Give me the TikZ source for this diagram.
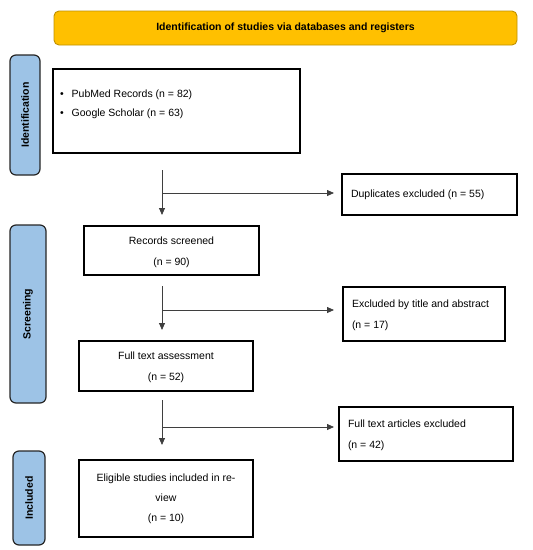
\documentclass[tikz,border=0pt]{standalone}
\usepackage{fontspec}
\setmainfont{Liberation Sans}
\usetikzlibrary{arrows.meta}
\definecolor{gold}{HTML}{FFC000}
\definecolor{golddark}{HTML}{BF9000}
\definecolor{sideblue}{HTML}{9DC3E6}
\definecolor{sideedge}{HTML}{262626}
\definecolor{arrowgray}{HTML}{3F3F3F}
\begin{document}
\begin{tikzpicture}[x=1pt,y=-1pt,
  every node/.style={font=\fontsize{10.5}{21}\selectfont, inner sep=0pt, outer sep=0pt},
  banner/.style={draw=golddark, line width=0.9pt, fill=gold, rounded corners=5pt,
    minimum width=463pt, minimum height=34pt, font=\bfseries\fontsize{10.5}{21}\selectfont},
  side/.style={draw=sideedge, line width=1.2pt, fill=sideblue, rounded corners=6pt,
    rotate=90, font=\bfseries\fontsize{10.5}{21}\selectfont},
  box/.style={draw=black, line width=1.2pt},
  ctext/.style={align=center},
  ltext/.style={align=left, anchor=west},
  flow/.style={draw=arrowgray, line width=0.8pt},
  flowarrow/.style={flow, -{Triangle[length=7pt,width=6pt]}}
]
\useasboundingbox (0,0) rectangle (533,550);

% banner
\node[banner] (banner) at (285.5,28) {Identification of studies via databases and registers};

% side labels
\node[side, minimum width=120pt, minimum height=30pt] (sidea) at (25,115) {Identification};
\node[side, minimum width=178pt, minimum height=36pt] (sideb) at (28,314) {Screening};
\node[side, minimum width=94pt, minimum height=32pt] (sidec) at (29,498) {Included};

% main boxes
\node[box, minimum width=247pt, minimum height=84pt] (box1) at (176.5,111) {};
\node[ltext, font=\fontsize{10.5}{19}\selectfont] (box1txt) at (60,104)
  {\textbullet\hspace{8pt}PubMed Records (n = 82)\\\textbullet\hspace{8pt}Google Scholar (n = 63)};

\node[box, minimum width=175pt, minimum height=41pt] (dup) at (429.5,194.5) {};
\node[ltext] (duptxt) at ([xshift=9pt,yshift=-0.5pt]dup.west) {Duplicates excluded (n = 55)};

\node[box, minimum width=175pt, minimum height=49pt] (screen) at (171.5,250.5) {};
\node[ctext] (screentxt) at ([yshift=-2pt]screen.center) {Records screened\\(n = 90)};

\node[box, minimum width=162pt, minimum height=54pt] (extitle) at (424,314) {};
\node[ltext] (extitletxt) at ([xshift=9pt,yshift=-1.5pt]extitle.west) {Excluded by title and abstract\\(n = 17)};

\node[box, minimum width=174pt, minimum height=50pt] (fulltext) at (166,366) {};
\node[ctext] (fulltexttxt) at ([yshift=-1pt]fulltext.center) {Full text assessment\\(n = 52)};

\node[box, minimum width=174pt, minimum height=54pt] (exfull) at (426,434) {};
\node[ltext] (exfulltxt) at ([xshift=9pt,yshift=-1.5pt]exfull.west) {Full text articles excluded\\(n = 42)};

\node[box, minimum width=174pt, minimum height=77pt] (elig) at (166,498.5) {};
\node[ctext, font=\fontsize{10.5}{20}\selectfont] (eligtxt) at (elig.center) {Eligible studies included in re-\\view\\(n = 10)};

% connector coordinates
\coordinate (a1s) at (162,170);
\coordinate (a1e) at (162,215);
\coordinate (a1m) at (162,193);
\coordinate (a1r) at (334,193);
\coordinate (a2s) at (162,286);
\coordinate (a2e) at (162,330);
\coordinate (a2m) at (162,310);
\coordinate (a2r) at (334,310);
\coordinate (a3s) at (162,400);
\coordinate (a3e) at (162,445);
\coordinate (a3m) at (162,427);
\coordinate (a3r) at (334,427);

\draw[flowarrow] (a1s) -- (a1e);
\draw[flowarrow] (a1m) -- (a1r);
\draw[flowarrow] (a2s) -- (a2e);
\draw[flowarrow] (a2m) -- (a2r);
\draw[flowarrow] (a3s) -- (a3e);
\draw[flowarrow] (a3m) -- (a3r);
\end{tikzpicture}
\end{document}
